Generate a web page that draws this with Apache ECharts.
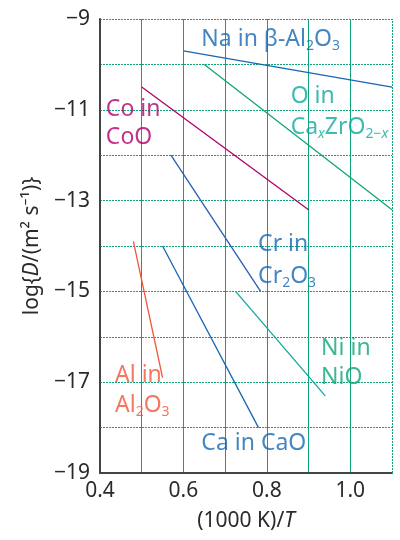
<!DOCTYPE html>
<html>
<head>
<meta charset="utf-8">
<script src="https://cdn.jsdelivr.net/npm/echarts@6/dist/echarts.min.js"></script>
<style>html,body{margin:0;padding:0;background:#fff}</style>
</head>
<body>
<div id="main" style="width:400px;height:540px;"></div>
<script>
// line endpoints [x, logD]
const naLine = [[0.6, -9.7], [1.1, -10.5]];
const oLine = [[0.65, -10.0], [1.1, -13.2]];
const coLine = [[0.5, -10.5], [0.9, -13.2]];
const crLine = [[0.57, -12.0], [0.785, -15.0]];
const niLine = [[0.725, -15.0], [0.94, -17.3]];
const caLine = [[0.55, -14.0], [0.78, -18.0]];
const alLine = [[0.48, -13.9], [0.55, -16.9]];

const xTickLabels = ['0.4', '0.6', '0.8', '1.0'];

const blue = '#1766b2';
const teal = '#0fa99b';
const green = '#0fa479';
const magenta = '#b0006a';
const orange = '#f0553a';
const gridGreen = '#0fa477';

const sub = { fontSize: 14, padding: [13, 0, 0, 0], fontFamily: 'Noto Sans' };
const subI = { fontSize: 14, padding: [13, 0, 0, 0], fontFamily: 'Noto Sans', fontStyle: 'italic' };

// [x, y, text, colour]
const labels = [
  [0.643, -9.46, 'Na in β-Al{s|2}O{s|3}', blue],
  [0.857, -10.7, 'O in', teal],
  [0.857, -11.38, 'Ca{si|x}ZrO{s|2−}{si|x}', teal],
  [0.414, -11.0, 'Co in', magenta],
  [0.414, -11.62, 'CoO', magenta],
  [0.779, -13.97, 'Cr in', blue],
  [0.779, -14.68, 'Cr{s|2}O{s|3}', blue],
  [0.93, -16.25, 'Ni in', green],
  [0.93, -16.9, 'NiO', green],
  [0.643, -18.34, 'Ca in CaO', blue],
  [0.436, -16.85, 'Al in', orange],
  [0.436, -17.52, 'Al{s|2}O{s|3}', orange]
];

function lineSeries(data, color) {
  return {
    type: 'line', data: data, symbol: 'none', silent: true,
    lineStyle: { color: color, width: 1.3 }, z: 3
  };
}

const chart = echarts.init(document.getElementById('main'));

const option = {
  animation: false,
  textStyle: { fontFamily: 'Noto Sans' },
  grid: { left: 100, right: 8, top: 19, bottom: 67 },
  xAxis: {
    type: 'value', min: 0.4, max: 1.1, interval: 0.1,
    name: '(1000 K)/{i|T}', nameLocation: 'middle', nameGap: 38,
    nameTextStyle: {
      fontSize: 21, color: '#2a2a2a', fontFamily: 'Noto Sans',
      rich: { i: { fontSize: 21, fontStyle: 'italic', color: '#2a2a2a', fontFamily: 'Noto Sans' } }
    },
    axisLine: { lineStyle: { color: '#444', width: 2 } },
    axisTick: { show: false },
    axisLabel: {
      fontSize: 21, color: '#2a2a2a', margin: 8,
      formatter: v => { const s = v.toFixed(1); return xTickLabels.includes(s) ? s : ''; }
    },
    splitLine: { show: true, showMaxLine: false, lineStyle: { color: gridGreen, width: 1 } }
  },
  yAxis: {
    type: 'value', min: -19, max: -9, interval: 1,
    name: 'log{{i|D}/(m² s⁻¹)}', nameLocation: 'middle', nameGap: 57,
    nameTextStyle: {
      fontSize: 21, color: '#2a2a2a', fontFamily: 'Noto Sans',
      rich: { i: { fontSize: 21, fontStyle: 'italic', color: '#2a2a2a', fontFamily: 'Noto Sans' } }
    },
    axisLine: { show: true, lineStyle: { color: '#444', width: 2 } },
    axisTick: { show: false },
    axisLabel: {
      fontSize: 21, color: '#2a2a2a', margin: 10,
      formatter: v => (Math.abs(v) % 2 === 1 ? '−' + Math.abs(v) : '')
    },
    splitLine: { show: true, lineStyle: { color: gridGreen, width: 1, type: [2, 1] } }
  },
  series: [
    lineSeries(naLine, blue),
    lineSeries(oLine, green),
    lineSeries(coLine, magenta),
    lineSeries(crLine, '#2a5cae'),
    lineSeries(niLine, teal),
    lineSeries(caLine, blue),
    lineSeries(alLine, orange),
    {
      type: 'line', data: [], silent: true,
      markLine: {
        symbol: 'none', silent: true, label: { show: false },
        lineStyle: { color: gridGreen, width: 1, type: [2, 1] },
        data: [{ xAxis: 1.1 }]
      }
    },
    {
      type: 'scatter', symbolSize: 0, silent: true, z: 5,
      data: labels.map(l => ({
        value: [l[0], l[1]],
        label: {
          show: true, position: 'right', distance: 0,
          formatter: l[2], fontSize: 23, color: l[3], fontFamily: 'Noto Sans',
          rich: {
            s: Object.assign({ color: l[3] }, sub),
            si: Object.assign({ color: l[3] }, subI)
          }
        }
      }))
    }
  ]
};

chart.setOption(option);
</script>
</body>
</html>
